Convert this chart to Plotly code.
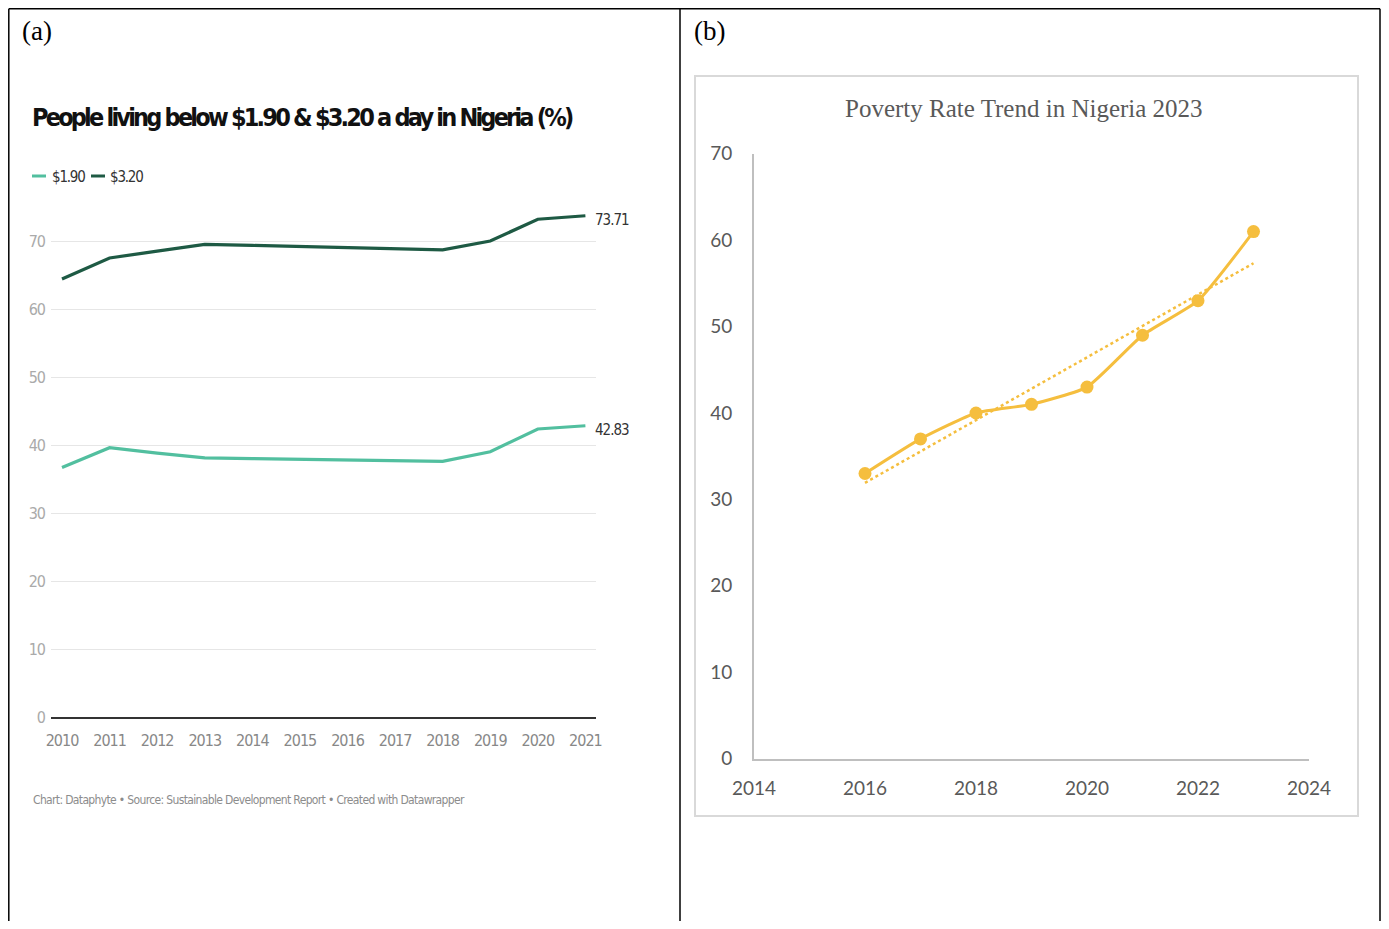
import numpy as np
import plotly.graph_objects as go

# ---------------- data ----------------
years_a = list(range(2010, 2022))
below_190 = [36.7, 39.6, 38.8, 38.1, 38.0, 37.9, 37.8, 37.7, 37.6, 39.0, 42.35, 42.83]
below_320 = [64.4, 67.5, 68.5, 69.5, 69.35, 69.2, 69.0, 68.85, 68.7, 70.0, 73.2, 73.71]
series_names = ["$1.90", "$3.20"]
y_ticks_a = [0, 10, 20, 30, 40, 50, 60, 70]

years_b = list(range(2016, 2024))
poverty_rate = [33, 37, 40, 41, 43, 49, 53, 61]
x_ticks_b = [2014, 2016, 2018, 2020, 2022, 2024]
y_ticks_b = [0, 10, 20, 30, 40, 50, 60, 70]

# ---------------- style ----------------
OFF = 8                      # page body margin
W, H = 1389 - 2 * OFF, 929 - 2 * OFF
C190 = "#52BF9F"
C320 = "#1E5A44"
GOLD = "#F5BE3E"
NARROW = "Liberation Sans Narrow, DejaVu Sans Condensed, Roboto, sans-serif"
SERIF = "Liberation Serif, Times New Roman, serif"
CALI = "Lato, Open Sans, sans-serif"


def px(x):
    return (x - OFF) / W


def py(y):
    return 1 - (y - OFF) / H


def tight(text, ls):
    return f'<span style="letter-spacing:{ls}px">{text}</span>'


fig = go.Figure()

# ---------- panel (a) ----------
fig.add_trace(go.Scatter(x=years_a, y=below_190, mode="lines", name=series_names[0],
                         line=dict(color=C190, width=3.2), xaxis="x", yaxis="y",
                         showlegend=False))
fig.add_trace(go.Scatter(x=years_a, y=below_320, mode="lines", name=series_names[1],
                         line=dict(color=C320, width=3.2), xaxis="x", yaxis="y",
                         showlegend=False))

# ---------- panel (b) ----------
slope, intercept = np.polyfit(years_b, poverty_rate, 1)
trend_x = [years_b[0], years_b[-1]]
trend_y = [slope * v + intercept for v in trend_x]
fig.add_trace(go.Scatter(x=trend_x, y=trend_y, mode="lines",
                         line=dict(color=GOLD, width=2.5, dash="dot"),
                         xaxis="x2", yaxis="y2", showlegend=False))
fig.add_trace(go.Scatter(x=years_b, y=poverty_rate, mode="lines+markers",
                         line=dict(color=GOLD, width=3, shape="spline", smoothing=0.5),
                         marker=dict(color=GOLD, size=13),
                         xaxis="x2", yaxis="y2", showlegend=False))

# axis geometry (pixels in the reference picture)
a_x0, a_x1 = 51, 595.5
a_y0_px, a_top_px = 717, 200
a_ppy = 47.58
b_x0, b_x1 = 754, 1309
b_y0, b_y1 = 758.6, 153.8

fig.update_layout(
    width=W, height=H,
    margin=dict(l=0, r=0, t=0, b=0, autoexpand=False),
    paper_bgcolor="white", plot_bgcolor="white",
    xaxis=dict(domain=[px(a_x0), px(a_x1)],
               range=[2010 - (62 - a_x0) / a_ppy, 2021 + (a_x1 - 585.4) / a_ppy],
               tickvals=years_a, ticktext=[tight(str(v), -1) for v in years_a],
               showgrid=False, zeroline=False, automargin=False,
               showline=True, linecolor="#333333", linewidth=2,
               ticks="", ticklabelstandoff=8,
               tickfont=dict(family=NARROW, size=16, color="#888888"),
               anchor="y"),
    yaxis=dict(domain=[py(a_y0_px), py(a_top_px)],
               range=[0, (a_y0_px - a_top_px) / 6.8],
               tickvals=y_ticks_a, ticktext=[tight(str(v), -1) for v in y_ticks_a],
               showgrid=True, gridcolor="#E6E6E6", gridwidth=1, automargin=False,
               zeroline=False, showline=False, ticks="", ticklabelstandoff=5,
               tickfont=dict(family=NARROW, size=16, color="#AAAAAA"),
               anchor="x"),
    xaxis2=dict(domain=[px(b_x0), px(b_x1)], range=[2014, 2024],
                tickvals=x_ticks_b, ticktext=[str(v) for v in x_ticks_b],
                showgrid=False, zeroline=False, automargin=False,
                showline=True, linecolor="#BFBFBF", linewidth=2,
                ticks="", ticklabelstandoff=12,
                tickfont=dict(family=CALI, size=19, color="#595959"),
                anchor="y2"),
    yaxis2=dict(domain=[py(b_y0), py(b_y1)], range=[0, 70],
                tickvals=y_ticks_b, ticktext=[str(v) for v in y_ticks_b],
                showgrid=False, zeroline=False, automargin=False,
                showline=True, linecolor="#BFBFBF", linewidth=2,
                ticks="", ticklabelstandoff=16,
                tickfont=dict(family=CALI, size=19, color="#595959"),
                anchor="x2"),
)

shapes = []
# outer frame lines
right_edge = min(1385, OFF + W - 1)
frame = dict(type="line", xref="paper", yref="paper", line=dict(color="black", width=1.5))
shapes.append({**frame, "x0": px(8.8), "x1": px(right_edge), "y0": py(8.8), "y1": py(8.8)})
shapes.append({**frame, "x0": px(8.8), "x1": px(8.8), "y0": py(8.8), "y1": 0})
shapes.append({**frame, "x0": px(680), "x1": px(680), "y0": py(8.8), "y1": 0})
shapes.append({**frame, "x0": px(right_edge), "x1": px(right_edge), "y0": py(8.8), "y1": 0})
# chart box of panel (b)
shapes.append(dict(type="rect", xref="paper", yref="paper",
                   x0=px(695), x1=px(1358), y0=py(816), y1=py(76),
                   line=dict(color="#D9D9D9", width=2), fillcolor="rgba(0,0,0,0)"))
# legend keys for panel (a)
for (x0, x1), col in zip([(32, 46), (91, 105)], [C190, C320]):
    shapes.append(dict(type="line", xref="paper", yref="paper",
                       x0=px(x0), x1=px(x1), y0=py(176), y1=py(176),
                       line=dict(color=col, width=3)))
fig.update_layout(shapes=shapes)

ann = []
ann.append(dict(text="(a)", x=px(20), y=py(31), xref="paper", yref="paper",
                xanchor="left", yanchor="middle", showarrow=False,
                font=dict(family=SERIF, size=27, color="black")))
ann.append(dict(text="(b)", x=px(692), y=py(31), xref="paper", yref="paper",
                xanchor="left", yanchor="middle", showarrow=False,
                font=dict(family=SERIF, size=27, color="black")))
ann.append(dict(text=tight("<b>People living below $1.90 & $3.20 a day in Nigeria (%)</b>", -2.8),
                x=px(30), y=py(118), xref="paper", yref="paper",
                xanchor="left", yanchor="middle", showarrow=False,
                font=dict(family=NARROW, size=25, color="#111111")))
for xl, name in zip([50, 108], series_names):
    ann.append(dict(text=tight(name, -1.2), x=px(xl), y=py(177), xref="paper", yref="paper",
                    xanchor="left", yanchor="middle", showarrow=False,
                    font=dict(family=NARROW, size=15, color="#333333")))
ann.append(dict(text=tight("Chart: Dataphyte • Source: Sustainable Development Report • Created with Datawrapper", -0.65),
                x=px(31), y=py(800), xref="paper", yref="paper",
                xanchor="left", yanchor="middle", showarrow=False,
                font=dict(family=NARROW, size=12, color="#8C8C8C")))
for vals in (below_320, below_190):
    ann.append(dict(text=tight(f"{vals[-1]:.2f}", -1), x=years_a[-1], y=vals[-1], xref="x", yref="y",
                    xanchor="left", yanchor="middle", xshift=8, yshift=-4, showarrow=False,
                    font=dict(family=NARROW, size=15, color="#333333")))
ann.append(dict(text="Poverty Rate Trend in Nigeria 2023", x=px(1024), y=py(108),
                xref="paper", yref="paper", xanchor="center", yanchor="middle",
                showarrow=False, font=dict(family=SERIF, size=25, color="#595959")))
fig.update_layout(annotations=ann)

fig.write_html("out.html")
